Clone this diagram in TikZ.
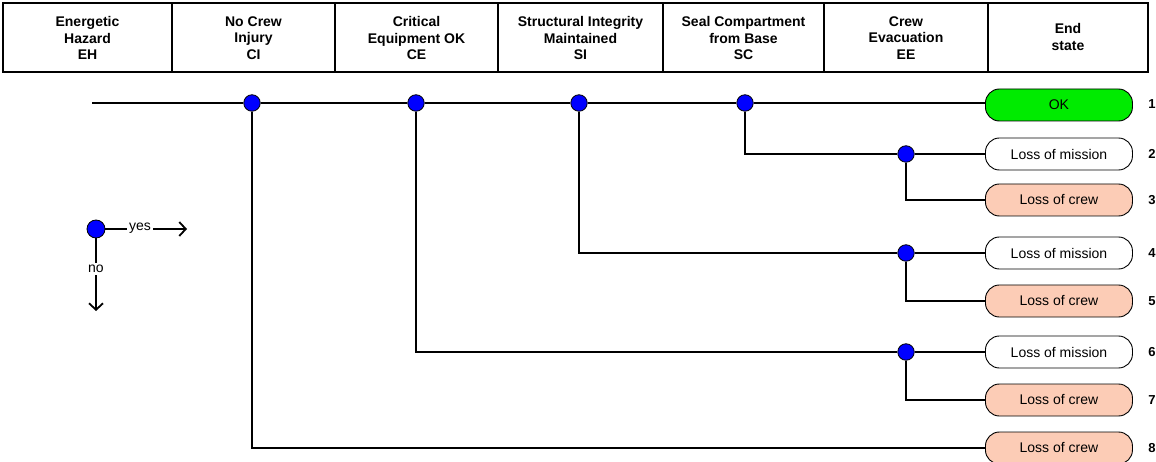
\documentclass[tikz,border=0pt]{standalone}
\usepackage{fontspec}
\setmainfont{Liberation Sans}
\usetikzlibrary{arrows.meta}
\definecolor{okgreen}{RGB}{0,235,0}
\definecolor{peach}{RGB}{252,204,182}
\begin{document}
\begin{tikzpicture}[x=1pt,y=-1pt,
  hdr/.style={font=\bfseries\fontsize{14}{16.3}\selectfont, align=center, inner sep=0pt},
  dot/.style={circle, fill=blue, draw=black, line width=0.8pt, minimum size=16.5pt, inner sep=0pt},
  br/.style={line width=1.8pt},
  frame/.style={line width=2pt},
  es/.style={draw=black, line width=0.9pt, rounded corners=14pt, minimum width=147pt, minimum height=32pt, inner sep=0pt, font=\fontsize{14}{16}\selectfont, anchor=west},
  num/.style={font=\bfseries\fontsize{13}{14}\selectfont, inner sep=0pt},
  lbl/.style={font=\fontsize{14}{16}\selectfont, inner sep=2pt},
  arr/.style={br, -{Straight Barb[length=6.5pt,width=14pt]}}]
\useasboundingbox (0,0) rectangle (1156,462);
% header
\draw[frame] (3,3) rectangle (1148,72);
\foreach \xx in {172,335,498,663,824,988} \draw[frame] (\xx,3) -- (\xx,72);
\node[hdr] (h1) at (87.5,38) {Energetic\\Hazard\\EH};
\node[hdr] (h2) at (253.5,38) {No Crew\\Injury\\CI};
\node[hdr] (h3) at (416.5,38) {Critical\\Equipment OK\\CE};
\node[hdr] (h4) at (580.5,38) {Structural Integrity\\Maintained\\SI};
\node[hdr] (h5) at (743.5,38) {Seal Compartment\\from Base\\SC};
\node[hdr] (h6) at (906,38) {Crew\\Evacuation\\EE};
\node[hdr] (h7) at (1068,37) {End\\state};
% end states
\node[es, fill=okgreen] (e1) at (985,105) {OK};
\node[es, fill=white] (e2) at (985,154) {Loss of mission};
\node[es, fill=peach] (e3) at (985,200) {Loss of crew};
\node[es, fill=white] (e4) at (985,253) {Loss of mission};
\node[es, fill=peach] (e5) at (985,301) {Loss of crew};
\node[es, fill=white] (e6) at (985,352) {Loss of mission};
\node[es, fill=peach] (e7) at (985,400) {Loss of crew};
\node[es, fill=peach] (e8) at (985,448) {Loss of crew};
\foreach \i/\yy in {1/104,2/154,3/200,4/253,5/301,6/352,7/400,8/448}
  \node[num] (n\i) at (1152,\yy) {\i};
% tree
\coordinate (start) at (92,103);
\node[dot] (ci) at (252,103) {};
\node[dot] (ce) at (416,103) {};
\node[dot] (si) at (579,103) {};
\node[dot] (sc) at (745,103) {};
\node[dot] (ee1) at (906,154) {};
\node[dot] (ee2) at (906,253) {};
\node[dot] (ee3) at (906,352) {};
\draw[br] (start) -- (ci);
\draw[br] (ci) -- (ce);
\draw[br] (ce) -- (si);
\draw[br] (si) -- (sc);
\draw[br] (sc) -- (e1.west |- sc);
\draw[br] (sc) |- (ee1);
\draw[br] (ee1) -- (e2);
\draw[br] (ee1) |- (e3);
\draw[br] (si) |- (ee2);
\draw[br] (ee2) -- (e4);
\draw[br] (ee2) |- (e5);
\draw[br] (ce) |- (ee3);
\draw[br] (ee3) -- (e6);
\draw[br] (ee3) |- (e7);
\draw[br] (ci) |- (e8);
% legend
\node[dot, minimum size=18pt] (lg) at (96,229) {};
\node[lbl] (yes) at (140,228) {yes};
\coordinate (yesend) at (187,229);
\node[lbl] (no) at (96,269) {no};
\coordinate (noend) at (96,311);
\draw[br] (lg) -- (yes.west |- lg);
\draw[arr] (yes.east |- lg) -- (yesend);
\draw[br] (lg) -- (no);
\draw[arr] (no) -- (noend);
\end{tikzpicture}
\end{document}
